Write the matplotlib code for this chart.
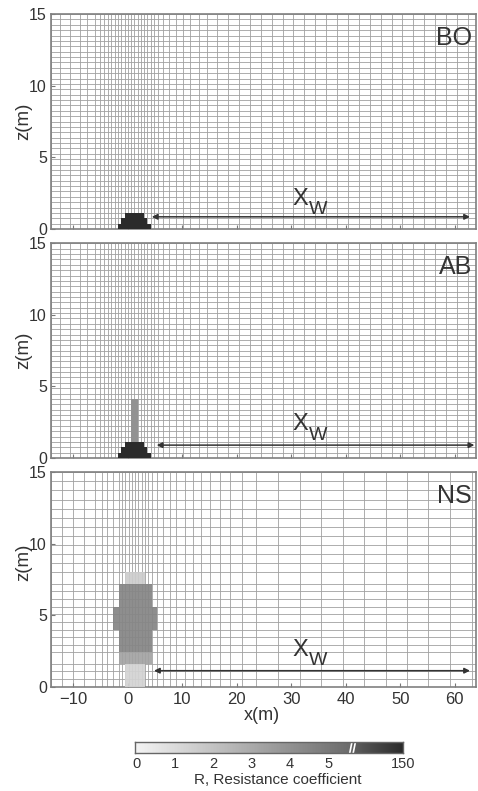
import numpy as np
import matplotlib.pyplot as plt
from matplotlib.colors import LinearSegmentedColormap

plt.rcParams['font.family'] = ['Liberation Sans', 'DejaVu Sans']

# model mesh (cell edges, m) for the building (BO) and building + tree (AB) runs
bo_x = [-14.1, -12.5, -10.6, -8.8, -7.5, -6.1, -5.1, -4.4, -3.7, -3.0, -2.4, -1.8,
        -1.2, -0.6, 0.0, 0.6, 1.2, 1.8, 2.4, 3.0, 3.6, 4.2, 4.8, 5.6, 6.5, 7.6,
        8.8, 10.1, 11.5, 13.0, 14.6, 16.4, 18.4, 20.4, 22.4, 24.4, 26.4, 28.4,
        30.4, 32.4, 34.4, 36.4, 38.4, 40.4, 42.4, 44.4, 46.4, 48.4, 50.4, 52.4,
        54.4, 56.4, 58.4, 60.4, 62.4, 63.9]
bo_dz = 0.375
bo_z = np.arange(0, 15 + bo_dz / 2, bo_dz)

# mesh for the tree-only run (NS)
ns_x = [-14.1, -12.0, -10.0, -8.1, -6.0, -4.8, -3.8, -2.7, -1.65, -1.05, -0.45,
        0.15, 0.75, 1.35, 1.95, 2.55, 3.15, 3.75, 4.35, 5.4, 6.5, 7.7, 8.9, 10.5,
        12.0, 13.5, 15.0, 16.9, 18.8, 21.0, 23.6, 27.6, 31.6, 35.5, 39.5, 43.4,
        47.3, 51.2, 55.1, 59.1, 63.1, 63.9]
ns_z = [0, 0.55, 1.1, 1.6, 2.4, 2.95, 3.5, 4.0, 4.55, 5.1, 5.6, 6.15, 6.7, 7.2,
        8.0, 8.64, 9.27, 9.91, 10.55, 11.18, 11.82, 12.45, 13.09, 13.73, 14.36, 15.0]

# building (stepped), resistance 150
bld_x0 = [-1.8, -1.2, -0.6]
bld_x1 = [4.2, 3.6, 3.0]
bld_z0 = [0.0, 0.375, 0.75]
bld_z1 = [0.375, 0.75, 1.125]
bld_R = [150, 150, 150]

# tree trunk on top of the building (AB)
post_x0 = [0.6]
post_x1 = [1.8]
post_z0 = [1.125]
post_z1 = [4.125]
post_R = [4.0]

# tree crown, no building (NS)
ns_x0 = [-0.45, -1.65, -1.65, -2.7, -1.65, -0.45]
ns_x1 = [3.15, 4.35, 4.35, 5.4, 4.35, 3.15]
ns_z0 = [0.0, 1.6, 2.4, 4.0, 5.6, 7.2]
ns_z1 = [1.6, 2.4, 4.0, 5.6, 7.2, 8.0]
ns_R = [1.3, 3.3, 4.5, 4.5, 4.5, 1.6]

# wake length arrows (start, end, height) and labels
xw_start = [4.4, 5.3, 4.8]
xw_end = [62.8, 63.6, 62.8]
xw_z = [0.85, 0.9, 1.12]
xw_lab_z = [2.1, 2.35, 2.6]
panel_names = ['BO', 'AB', 'NS']

cbar_ticks = [0, 1, 2, 3, 4, 5, 150]

U_MIN, U_BREAK, U_MAX = -0.04, 5.62, 6.95


def to_u(r):
    r = np.asarray(r, dtype=float)
    return np.where(r <= 5, r, U_BREAK + (r - 5) / 145.0 * (U_MAX - U_BREAK))


def t(u):
    return (u - U_MIN) / (U_MAX - U_MIN)


cmap = LinearSegmentedColormap.from_list('res', [
    (0.0, '#f4f4f4'), (t(5.6), '#6b6b6b'), (t(5.66), '#5e5e5e'), (1.0, '#2b2b2b')])


def build_field(xe, ze, x0s, x1s, z0s, z1s, rs):
    xe = np.asarray(xe); ze = np.asarray(ze)
    xc = (xe[:-1] + xe[1:]) / 2
    zc = (ze[:-1] + ze[1:]) / 2
    R = np.full((len(zc), len(xc)), np.nan)
    for x0, x1, z0, z1, r in zip(x0s, x1s, z0s, z1s, rs):
        xm = (xc > x0) & (xc < x1)
        zm = (zc > z0) & (zc < z1)
        R[np.ix_(zm, xm)] = r
    return np.ma.masked_invalid(to_u(R))


fields = [
    (bo_x, bo_z, build_field(bo_x, bo_z, bld_x0, bld_x1, bld_z0, bld_z1, bld_R)),
    (bo_x, bo_z, build_field(bo_x, bo_z, bld_x0 + post_x0, bld_x1 + post_x1,
                             bld_z0 + post_z0, bld_z1 + post_z1, bld_R + post_R)),
    (ns_x, ns_z, build_field(ns_x, ns_z, ns_x0, ns_x1, ns_z0, ns_z1, ns_R)),
]

fig = plt.figure(figsize=(4.78, 7.91), dpi=100)
W, H = 478, 791
tops = [14, 243.3, 472.3]
bottoms = [229, 458, 686.7]
left, right = 51, 476
XLIM = (-14.1, 63.9)

for i, (xe, ze, U) in enumerate(fields):
    ax = fig.add_axes([left / W, 1 - bottoms[i] / H, (right - left) / W,
                       (bottoms[i] - tops[i]) / H])
    ax.vlines(xe, 0, 15, colors='#a0a0a0', lw=0.6, zorder=1)
    ax.hlines(ze, XLIM[0], XLIM[1], colors='#a0a0a0', lw=0.6, zorder=1)
    ax.pcolormesh(xe, ze, U, cmap=cmap, vmin=U_MIN, vmax=U_MAX,
                  shading='flat', zorder=3, alpha=1.0 if i < 2 else 0.92)
    ax.set_xlim(*XLIM)
    ax.set_ylim(0, 15)
    ax.set_yticks([0, 5, 10, 15])
    ax.set_xticks([-10, 0, 10, 20, 30, 40, 50, 60])
    ax.tick_params(direction='in', length=3, color='#777', labelsize=11.5,
                   labelcolor='#333', pad=3)
    if i < 2:
        ax.tick_params(labelbottom=False)
    else:
        ax.tick_params(axis='x', labelsize=12, pad=4)
        ax.set_xlabel('x(m)', fontsize=13, color='#333')
        ax.xaxis.set_label_coords((262 - left) / (right - left), -0.095)
    ax.set_ylabel('z(m)', fontsize=13.5, color='#333')
    ax.yaxis.set_label_coords(-0.045, 0.5 if i < 2 else 0.58)
    for s in ax.spines.values():
        s.set_color('#808080')
        s.set_linewidth(1.2)
    ax.annotate('', xy=(xw_start[i], xw_z[i]), xytext=(xw_end[i], xw_z[i]),
                arrowprops=dict(arrowstyle='<|-|>', color='#333', lw=1.1,
                                mutation_scale=8, shrinkA=0, shrinkB=0),
                zorder=5)
    ax.text(30.3, xw_lab_z[i], 'X', fontsize=17, color='#333', ha='left',
            va='center', zorder=6)
    ax.text(33.2, xw_lab_z[i] - 0.75, 'W', fontsize=14, color='#333', ha='left',
            va='center', zorder=6)
    ax.text(63.2, 13.35, panel_names[i], fontsize=18, color='#333', ha='right',
            va='center', zorder=6)

# colour bar
cax = fig.add_axes([135 / W, 1 - 752.7 / H, (403 - 135) / W, 10.4 / H])
grad = np.linspace(U_MIN, U_MAX, 500)[None, :]
cax.imshow(grad, extent=[U_MIN, U_MAX, 0, 1], aspect='auto', cmap=cmap,
           vmin=U_MIN, vmax=U_MAX)
cax.plot([U_BREAK - 0.06, U_BREAK], [-0.05, 1.05], color='white', lw=1.2)
cax.plot([U_BREAK + 0.03, U_BREAK + 0.09], [-0.05, 1.05], color='white', lw=1.2)
cax.set_xlim(U_MIN, U_MAX)
cax.set_ylim(0, 1)
cax.set_yticks([])
cax.set_xticks(to_u(cbar_ticks))
cax.set_xticklabels([str(v) for v in cbar_ticks])
cax.tick_params(axis='x', length=0, labelsize=10.5, labelcolor='#333', pad=3)
for s in cax.spines.values():
    s.set_color('#666')
    s.set_linewidth(1.0)
fig.text(278 / W, 1 - 780 / H, 'R, Resistance coefficient', ha='center',
         va='center', fontsize=11, color='#333')

fig.savefig('out.png', dpi=100)
